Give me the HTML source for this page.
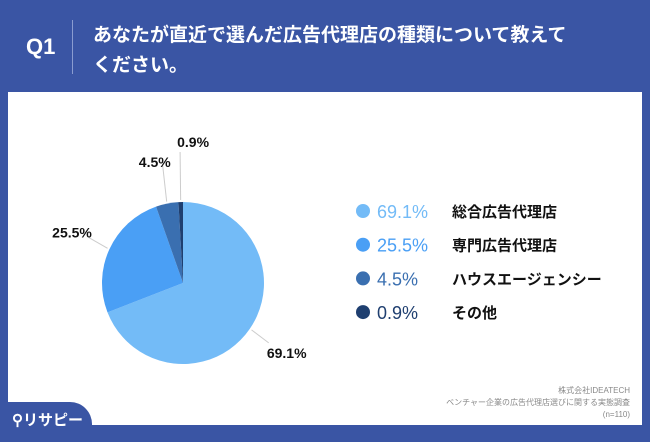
<!DOCTYPE html>
<html><head><meta charset="utf-8"><style>
body{margin:0;width:650px;height:434px;background:#3a55a4;position:relative;overflow:hidden;font-family:"Liberation Sans","Noto Sans CJK JP",sans-serif}
#panel{position:absolute;left:8px;top:92px;width:634px;height:333px;background:#fff}
.t{position:absolute;color:#fff;font-weight:bold}
</style></head><body>
<div class="t" style="left:26px;top:34px;font-size:22px">Q1</div>
<div style="position:absolute;left:72px;top:20px;width:1px;height:54px;background:#8a9cd0"></div>
<div class="t" style="left:93px;top:21px;font-size:19px;line-height:30px">あなたが直近で選んだ広告代理店の種類について教えて<br>ください。</div>
<div id="panel"></div>
<svg id="chart" width="650" height="434" style="position:absolute;left:0;top:0"></svg>
<div style="position:absolute;left:0;top:402px;width:92px;height:40px;background:#3a55a4;border-top-right-radius:22px"></div>
<div class="t" style="left:12px;top:409px;font-size:15px">⚲リサピー</div>
<div style="position:absolute;right:20px;top:385px;text-align:right;font-size:8px;line-height:12px;color:#888">株式会社IDEATECH<br>ベンチャー企業の広告代理店選びに関する実態調査<br>(n=110)</div>
<script>
const categories=["総合広告代理店","専門広告代理店","ハウスエージェンシー","その他"];
const values=[69.1,25.5,4.5,0.9];
const labels=["69.1%","25.5%","4.5%","0.9%"];
const colors=["#73bbf7","#4a9ff5","#3a6fb0","#1f3f70"];
const ns="http://www.w3.org/2000/svg",svg=document.getElementById("chart");
const cx=183,cy=283,r=81,total=values.reduce((a,b)=>a+b,0);
function mk(t,a){const e=document.createElementNS(ns,t);for(const k in a)e.setAttribute(k,a[k]);svg.appendChild(e);return e;}
function pt(a,rr){return [cx+rr*Math.sin(a),cy-rr*Math.cos(a)];}
let acc=0;
values.forEach((v,i)=>{
 const a0=acc/total*2*Math.PI;acc+=v;const a1=acc/total*2*Math.PI;
 const p0=pt(a0,r),p1=pt(a1,r),lg=(a1-a0)>Math.PI?1:0;
 const s=mk("path",{d:`M${cx},${cy}L${p0[0]},${p0[1]}A${r},${r} 0 ${lg} 1 ${p1[0]},${p1[1]}Z`,fill:colors[i]});
 
 
 const am=(a0+a1)/2;
 let la=pt(am,r+2),lb=pt(am,r+(i>=2?22:18));
 let tx=lb[0],ty=lb[1];
 if(i==0){tx+=22;ty+=19;lb=[lb[0]+4,lb[1]+4];}
 if(i==1){tx-=21;ty-=4;lb=[lb[0]-4,lb[1]-4];}
 if(i==2){tx-=8;ty-=15;lb=[lb[0],lb[1]-16];}
 if(i==3){tx+=13;ty-=33;lb=[lb[0],lb[1]-28];}
 const ln=mk("line",{x1:la[0],y1:la[1],x2:lb[0],y2:lb[1],stroke:"#ccc","stroke-width":1});
 
 
 const t=mk("text",{x:tx,y:ty,"text-anchor":"middle","font-size":14,"font-weight":"bold",fill:"#111"});
 t.textContent=labels[i];
 
 
 const ly=211+i*33.7;
 const d=mk("circle",{cx:363,cy:ly,r:7,fill:colors[i]});
 
 
 const lp=mk("text",{x:377,y:ly+7,"font-size":18,fill:colors[i]});
 lp.textContent=labels[i];
 
 
 const lt=mk("text",{x:452,y:ly+6,"font-size":15,"font-weight":"bold",fill:"#111"});
 lt.textContent=categories[i];
 
 
});
</script>
</body></html>
